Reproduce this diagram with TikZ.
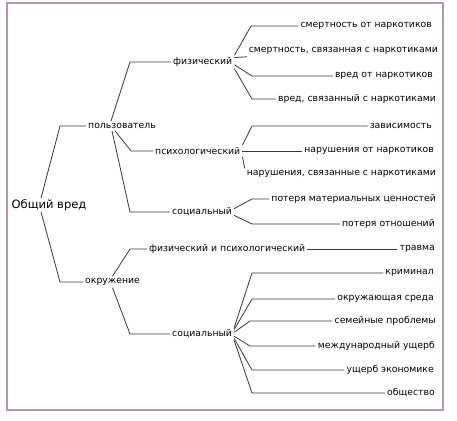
\documentclass[tikz,border=0pt]{standalone}
\usepackage{fontspec}
\setmainfont{DejaVu Sans}
\usetikzlibrary{positioning}
\definecolor{rama}{RGB}{55,55,55}
\definecolor{marco}{RGB}{184,150,168}
\tikzstyle{hoja} = [inner sep=2pt, anchor=east, font=\fontsize{9.3}{10}\selectfont, text=black]
\tikzstyle{rama} = [inner sep=2pt, anchor=west, font=\fontsize{9.3}{10}\selectfont, text=black]
\tikzstyle{raiz} = [inner sep=1pt, font=\fontsize{11.5}{14}\selectfont]
\tikzstyle{linea} = [draw=rama, line width=0.8pt]

\begin{document}
\begin{tikzpicture}[x=1pt,y=-1pt]
\useasboundingbox (0,0) rectangle (457,420);
\draw[marco, line width=1.6pt] (7,3) rectangle (443,410);
% nivel 0 y 1
\node[raiz] (raiz) at (49,205) {Общий вред};
\node[rama] (usuario) at (86,126) {пользователь};
\node[rama] (entorno) at (83,282) {окружение};
% nivel 2
\node[rama] (fis) at (171,62) {физический};
\node[rama] (psi) at (153,151) {психологический};
\node[rama] (soc) at (170,212) {социальный};
\node[rama] (fispsi) at (147,249) {физический и психологический};
\node[rama] (soc2) at (170,334) {социальный};
% hojas
\node[hoja] (d1) at (434,26) {смертность от наркотиков};
\node[hoja] (d2) at (440,51) {смертность, связанная с наркотиками};
\node[hoja] (d3) at (435,76) {вред от наркотиков};
\node[hoja] (d4) at (438,99) {вред, связанный с наркотиками};
\node[hoja] (p1) at (434,126) {зависимость};
\node[hoja] (p2) at (436,151) {нарушения от наркотиков};
\node[hoja] (p3) at (438,174) {нарушения, связанные с наркотиками};
\node[hoja] (s1) at (438,199) {потеря материальных ценностей};
\node[hoja] (s2) at (437,224) {потеря отношений};
\node[hoja] (tr) at (437,249) {травма};
\node[hoja] (e1) at (436,273) {криминал};
\node[hoja] (e2) at (436,299) {окружающая среда};
\node[hoja] (e3) at (438,321) {семейные проблемы};
\node[hoja] (e4) at (437,346) {международный ущерб};
\node[hoja] (e5) at (436,370) {ущерб экономике};
\node[hoja] (e6) at (437,393) {общество};
% conectores
\draw[linea] ([xshift=-8pt]raiz.north) -- (60,0 |- usuario) -- (usuario);
\draw[linea] ([xshift=-8pt]raiz.south) -- (60,0 |- entorno) -- (entorno);
\draw[linea] ([xshift=-11pt]usuario.north) -- (130,0 |- fis) -- (fis);
\draw[linea] ([xshift=-7pt]usuario.south) -- (131,0 |- psi) -- (psi);
\draw[linea] ([xshift=-10pt]usuario.south) -- (130,0 |- soc) -- (soc);
\draw[linea] (entorno.north) -- (130,0 |- fispsi) -- (fispsi);
\draw[linea] (entorno.south) -- (130,0 |- soc2) -- (soc2);
\draw[linea] (fis.north east) -- (251,0 |- d1) -- (d1);
\draw[linea] (fis.8) -- (d2);
\draw[linea] (fis.-5) -- (252,0 |- d3) -- (d3);
\draw[linea] (fis.south east) -- (252,0 |- d4) -- (d4);
\draw[linea] (psi.north east) -- (252,0 |- p1) -- (p1);
\draw[linea] (psi) -- (p2);
\draw[linea] (psi.south east) -- (p3.north west);
\draw[linea] (soc.6) -- (252,0 |- s1) -- (s1);
\draw[linea] (soc.-6) -- (252,0 |- s2) -- (s2);
\draw[linea] (fispsi) -- (tr);
\draw[linea] (soc2.north east) -- (252,0 |- e1) -- (e1);
\draw[linea] (soc2.8) -- (252,0 |- e2) -- (e2);
\draw[linea] (soc2.3) -- (250,0 |- e3) -- (e3);
\draw[linea] (soc2.-4) -- (250,0 |- e4) -- (e4);
\draw[linea] (soc2.-8) -- (252,0 |- e5) -- (e5);
\draw[linea] (soc2.south east) -- (252,0 |- e6) -- (e6);
\end{tikzpicture}
\end{document}
